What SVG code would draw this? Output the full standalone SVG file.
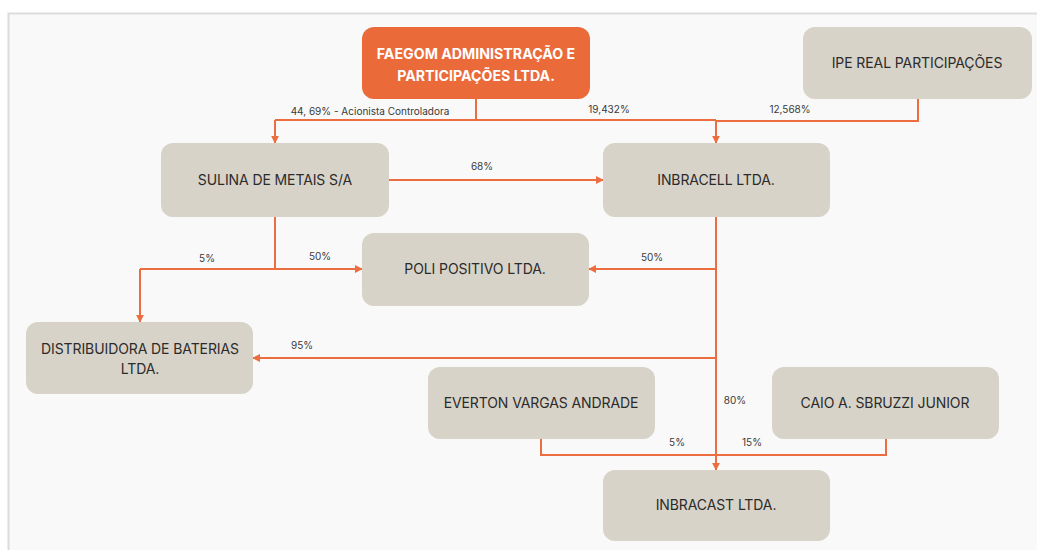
<svg xmlns="http://www.w3.org/2000/svg" width="1037" height="550" viewBox="0 0 1037 550">
<style>
.node{fill:#d8d3c8}
.main{fill:#ea6a3a}
.t{font-family:Inter,"Liberation Sans",sans-serif;font-size:14px;fill:#2b2b2b;text-anchor:middle;letter-spacing:-0.1px}
.tw{font-family:Inter,"Liberation Sans",sans-serif;font-size:14.2px;fill:#ffffff;font-weight:bold;text-anchor:middle}
.lb{font-family:Inter,"Liberation Sans",sans-serif;font-size:10px;fill:#3a3a3a;text-anchor:middle}
.c{fill:none;stroke:#ec6d3f;stroke-width:2}
</style>
<defs>
<marker id="ah" viewBox="0 0 10 10" refX="9" refY="5" markerWidth="4" markerHeight="4" orient="auto" markerUnits="strokeWidth">
<path d="M0,0 L10,5 L0,10 z" fill="#ec6d3f"/>
</marker>
</defs>
<rect x="0" y="0" width="1037" height="550" fill="#ffffff"/>
<rect x="8.5" y="13.5" width="1040" height="550" fill="#f9f9f9" stroke="#dcdcdc" stroke-width="2"/>
<g id="connectors">
<path class="c" d="M476,99 V120"/>
<path class="c" d="M275,120 H716"/>
<path class="c" d="M275,120 V143" marker-end="url(#ah)"/>
<path class="c" d="M918,99 V121 H716 V143" marker-end="url(#ah)"/>
<path class="c" d="M389,180 H603" marker-end="url(#ah)"/>
<path class="c" d="M275,217 V269"/>
<path class="c" d="M140,269 H362" marker-end="url(#ah)"/>
<path class="c" d="M140,269 V322" marker-end="url(#ah)"/>
<path class="c" d="M716,217 V470" marker-end="url(#ah)"/>
<path class="c" d="M716,269 H589" marker-end="url(#ah)"/>
<path class="c" d="M716,358 H253" marker-end="url(#ah)"/>
<path class="c" d="M541,439 V455 H886 V439"/>
<text class="lb" x="370" y="115">44, 69% - Acionista Controladora</text>
<text class="lb" x="609" y="113">19,432%</text>
<text class="lb" x="790" y="113">12,568%</text>
<text class="lb" x="482" y="170">68%</text>
<text class="lb" x="207" y="262">5%</text>
<text class="lb" x="320" y="260">50%</text>
<text class="lb" x="652" y="261">50%</text>
<text class="lb" x="302" y="349">95%</text>
<text class="lb" x="735" y="404">80%</text>
<text class="lb" x="677" y="446">5%</text>
<text class="lb" x="752" y="446">15%</text>
</g>
<g id="faegom">
<rect class="main" x="362" y="27" width="228" height="72" rx="12"/>
<text class="tw" x="476" y="59">FAEGOM ADMINISTRAÇÃO E</text>
<text class="tw" x="476" y="81">PARTICIPAÇÕES LTDA.</text>
</g>
<g id="ipe">
<rect class="node" x="803" y="27" width="229" height="72" rx="12"/>
<text class="t" x="917" y="68">IPE REAL PARTICIPAÇÕES</text>
</g>
<g id="sulina">
<rect class="node" x="161" y="143" width="228" height="74" rx="12"/>
<text class="t" x="275" y="185">SULINA DE METAIS S/A</text>
</g>
<g id="inbracell">
<rect class="node" x="603" y="143" width="227" height="74" rx="12"/>
<text class="t" x="716" y="185">INBRACELL LTDA.</text>
</g>
<g id="poli">
<rect class="node" x="362" y="233" width="227" height="73" rx="12"/>
<text class="t" x="475" y="274">POLI POSITIVO LTDA.</text>
</g>
<g id="distribuidora">
<rect class="node" x="26" y="322" width="227" height="72" rx="12"/>
<text class="t" x="140" y="354">DISTRIBUIDORA DE BATERIAS</text>
<text class="t" x="140" y="374">LTDA.</text>
</g>
<g id="everton">
<rect class="node" x="428" y="367" width="227" height="72" rx="12"/>
<text class="t" x="541" y="408">EVERTON VARGAS ANDRADE</text>
</g>
<g id="caio">
<rect class="node" x="772" y="367" width="227" height="72" rx="12"/>
<text class="t" x="885" y="408">CAIO A. SBRUZZI JUNIOR</text>
</g>
<g id="inbracast">
<rect class="node" x="603" y="470" width="227" height="71" rx="12"/>
<text class="t" x="716" y="510">INBRACAST LTDA.</text>
</g>
</svg>
